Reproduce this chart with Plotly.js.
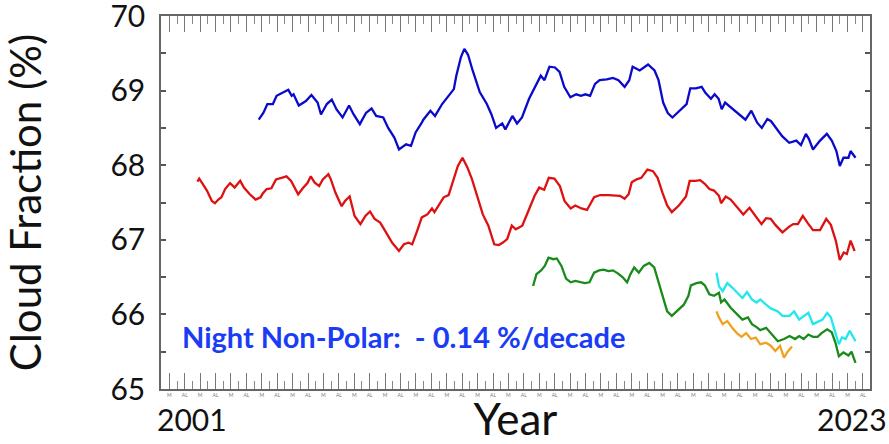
<!DOCTYPE html>
<html>
<head>
<meta charset="utf-8">
<script src="https://cdn.plot.ly/plotly-3.0.1.min.js"></script>
<style>html,body{margin:0;padding:0;background:#fff;}#chart{width:889px;height:444px;}</style>
</head>
<body>
<div id="chart"></div>
<script>
// ---- Data ----
const blueYears = [2003.17,2003.32,2003.45,2003.63,2003.75,2003.93,2004.13,2004.24,2004.30,2004.47,2004.70,2004.88,2005.08,2005.19,2005.38,2005.54,2005.69,2005.89,2006.10,2006.25,2006.45,2006.65,2006.83,2006.98,2007.21,2007.37,2007.57,2007.72,2007.95,2008.11,2008.26,2008.46,2008.51,2008.74,2008.89,2009.12,2009.32,2009.50,2009.58,2009.73,2009.84,2009.96,2010.11,2010.34,2010.57,2010.72,2010.87,2011.07,2011.17,2011.40,2011.55,2011.71,2011.94,2012.17,2012.32,2012.44,2012.60,2012.78,2012.93,2013.08,2013.28,2013.47,2013.62,2013.77,2013.92,2014.08,2014.23,2014.46,2014.66,2014.84,2015.04,2015.19,2015.30,2015.53,2015.80,2016.01,2016.14,2016.29,2016.44,2016.59,2016.82,2017.05,2017.17,2017.35,2017.54,2017.66,2017.84,2017.96,2018.09,2018.19,2018.30,2018.50,2018.73,2018.96,2019.15,2019.34,2019.49,2019.67,2019.79,2019.95,2020.15,2020.38,2020.61,2020.76,2020.92,2021.02,2021.15,2021.38,2021.60,2021.76,2021.91,2022.02,2022.14,2022.30,2022.37,2022.53];
const blueVals  = [68.61,68.70,68.82,68.82,68.93,68.97,69.01,68.93,68.95,68.80,68.86,68.94,68.84,68.68,68.82,68.88,68.75,68.64,68.80,68.68,68.55,68.70,68.76,68.66,68.64,68.50,68.37,68.21,68.28,68.26,68.44,68.57,68.61,68.73,68.66,68.82,68.93,69.02,69.20,69.45,69.56,69.48,69.27,68.98,68.82,68.68,68.50,68.56,68.48,68.66,68.56,68.64,68.89,69.09,69.20,69.14,69.32,69.31,69.25,69.05,68.91,68.95,68.93,68.95,68.93,69.09,69.14,69.15,69.17,69.14,69.05,69.14,69.32,69.27,69.35,69.27,69.14,68.84,68.70,68.64,68.73,68.82,69.03,69.03,69.05,68.97,68.89,68.95,68.89,68.75,68.84,68.77,68.68,68.61,68.73,68.57,68.50,68.62,68.59,68.50,68.39,68.30,68.33,68.27,68.42,68.35,68.21,68.33,68.42,68.33,68.19,67.99,68.10,68.10,68.19,68.10];

const redYears = [2001.18,2001.24,2001.32,2001.49,2001.65,2001.75,2001.86,2001.96,2002.08,2002.24,2002.39,2002.57,2002.69,2002.88,2003.07,2003.23,2003.30,2003.43,2003.58,2003.73,2003.91,2004.07,2004.22,2004.29,2004.45,2004.60,2004.75,2004.86,2004.98,2005.13,2005.25,2005.43,2005.51,2005.66,2005.86,2005.97,2006.12,2006.28,2006.47,2006.63,2006.78,2006.93,2007.11,2007.30,2007.50,2007.72,2007.88,2008.03,2008.15,2008.31,2008.46,2008.64,2008.79,2008.87,2009.02,2009.17,2009.33,2009.48,2009.63,2009.78,2009.94,2010.09,2010.24,2010.44,2010.62,2010.81,2010.96,2011.08,2011.23,2011.38,2011.51,2011.72,2011.92,2012.12,2012.27,2012.43,2012.58,2012.76,2012.94,2013.09,2013.29,2013.44,2013.64,2013.82,2014.05,2014.25,2014.51,2014.74,2014.89,2015.04,2015.17,2015.27,2015.43,2015.58,2015.78,2015.96,2016.11,2016.27,2016.42,2016.57,2016.80,2017.03,2017.15,2017.34,2017.49,2017.64,2017.79,2017.94,2018.10,2018.17,2018.32,2018.48,2018.70,2018.89,2019.09,2019.29,2019.48,2019.63,2019.78,2019.93,2020.16,2020.39,2020.51,2020.66,2020.82,2020.97,2021.15,2021.38,2021.58,2021.73,2021.89,2022.02,2022.15,2022.25,2022.37,2022.50];
const redVals  = [67.78,67.82,67.77,67.66,67.52,67.49,67.54,67.57,67.68,67.76,67.70,67.79,67.70,67.61,67.54,67.57,67.62,67.68,67.69,67.81,67.83,67.85,67.79,67.73,67.61,67.69,67.76,67.85,67.77,67.72,67.81,67.88,67.81,67.63,67.45,67.52,67.58,67.32,67.21,67.32,67.38,67.28,67.23,67.10,66.96,66.85,66.94,66.96,66.94,67.12,67.30,67.34,67.42,67.37,67.48,67.57,67.60,67.79,67.99,68.10,67.97,67.81,67.61,67.34,67.19,66.94,66.93,66.96,67.01,67.19,67.14,67.19,67.39,67.59,67.70,67.67,67.83,67.82,67.72,67.52,67.42,67.46,67.42,67.40,67.57,67.60,67.60,67.60,67.59,67.55,67.61,67.77,67.81,67.83,67.94,67.92,67.83,67.63,67.46,67.37,67.46,67.58,67.79,67.79,67.80,67.75,67.68,67.66,67.59,67.49,67.58,67.54,67.43,67.34,67.43,67.32,67.21,67.29,67.28,67.20,67.10,67.18,67.21,67.21,67.32,67.23,67.13,67.13,67.28,67.20,66.99,66.73,66.83,66.81,66.99,66.85];

const greenYears = [2012.07,2012.18,2012.33,2012.45,2012.57,2012.73,2012.84,2012.99,2013.14,2013.29,2013.44,2013.60,2013.75,2013.90,2014.05,2014.21,2014.36,2014.51,2014.66,2014.82,2014.97,2015.12,2015.23,2015.35,2015.50,2015.66,2015.84,2016.00,2016.15,2016.27,2016.42,2016.57,2016.73,2016.96,2017.11,2017.19,2017.37,2017.52,2017.64,2017.79,2017.94,2018.10,2018.17,2018.28,2018.48,2018.68,2018.86,2019.04,2019.17,2019.32,2019.44,2019.63,2019.78,2020.01,2020.21,2020.39,2020.57,2020.70,2020.85,2021.00,2021.15,2021.30,2021.43,2021.61,2021.76,2021.88,2021.99,2022.14,2022.30,2022.40,2022.53];
const greenVals  = [66.38,66.54,66.59,66.65,66.76,66.74,66.75,66.65,66.48,66.43,66.45,66.43,66.42,66.43,66.56,66.59,66.60,66.58,66.59,66.55,66.50,66.43,66.54,66.63,66.56,66.65,66.69,66.63,66.42,66.22,66.04,65.98,66.04,66.13,66.25,66.39,66.42,66.43,66.39,66.27,66.25,66.29,66.16,66.20,66.09,66.00,65.93,65.96,65.87,65.83,65.79,65.82,65.75,65.64,65.67,65.71,65.67,65.71,65.67,65.73,65.70,65.70,65.75,65.80,65.76,65.62,65.44,65.49,65.45,65.50,65.35];

const cyanYears = [2018.02,2018.10,2018.22,2018.37,2018.53,2018.71,2018.86,2019.01,2019.17,2019.32,2019.44,2019.63,2019.78,2020.01,2020.16,2020.39,2020.54,2020.70,2020.85,2021.00,2021.15,2021.30,2021.46,2021.61,2021.73,2021.88,2021.99,2022.09,2022.21,2022.34,2022.53];
const cyanVals  = [66.56,66.38,66.31,66.42,66.36,66.29,66.22,66.30,66.20,66.16,66.20,66.13,66.08,66.04,65.98,65.98,66.04,65.93,65.98,66.02,65.87,65.90,65.93,66.02,65.96,65.75,65.60,65.69,65.67,65.78,65.64];

const orangeYears = [2018.02,2018.10,2018.22,2018.37,2018.53,2018.68,2018.83,2018.98,2019.14,2019.29,2019.44,2019.63,2019.78,2019.93,2020.08,2020.21,2020.31,2020.47];
const orangeVals  = [66.04,65.96,65.87,65.91,65.82,65.75,65.70,65.75,65.67,65.69,65.60,65.62,65.58,65.51,65.58,65.42,65.49,65.57];

const yTickVals = [65, 66, 67, 68, 69, 70];
const yTickText = ['65', '66', '67', '68', '69', '70'];
const yearLabels = ['2001', '2023'];
const monthTickText = ['M', 'AL'];
const trendText = 'Night Non-Polar:  - 0.14 %/decade';

// ---- Build ----
const mk = (x, y, color) => ({x: x, y: y, type: 'scatter', mode: 'lines',
  line: {color: color, width: 2.3}, hoverinfo: 'skip', showlegend: false});

const traces = [
  mk(blueYears, blueVals, '#0a0acc'),
  mk(redYears, redVals, '#dd1111'),
  mk(greenYears, greenVals, '#1a8a1a'),
  mk(cyanYears, cyanVals, '#22e8ee'),
  mk(orangeYears, orangeVals, '#f0a21e')
];

// long (labelled, tiny month marks) x ticks every half year
const xTickVals = [], xTickText = [];
for (let k = 0; k < 46; k++) {
  xTickVals.push(2000.27 + 0.5 * k);
  xTickText.push(monthTickText[k % 2]);
}

const font = 'Lato, "Open Sans", sans-serif';

const layout = {
  width: 889, height: 444,
  margin: {l: 161, r: 19, t: 16, b: 55, pad: 0},
  paper_bgcolor: '#fff', plot_bgcolor: '#fff',
  font: {family: font, color: '#111'},
  xaxis: {
    range: [2000, 2023], showgrid: false, zeroline: false,
    showline: true, linecolor: '#666', linewidth: 1.5, mirror: 'allticks',
    ticks: 'inside', ticklen: 16, tickwidth: 1.2, tickcolor: '#777',
    tickvals: xTickVals, ticktext: xTickText,
    tickfont: {size: 5, color: '#777', family: font},
    minor: {dtick: 0.5, tick0: 2000.02, ticks: 'inside', ticklen: 8, tickcolor: '#888', tickwidth: 1.2},
    title: {text: 'Year', font: {size: 44, family: font, color: '#111'}, standoff: 16}
  },
  yaxis: {
    range: [65, 70], showgrid: false, zeroline: false,
    showline: true, linecolor: '#666', linewidth: 1.5, mirror: 'allticks',
    ticks: 'inside', ticklen: 5, tickwidth: 1.5, tickcolor: '#555',
    tickvals: yTickVals, ticktext: yTickText, ticklabelstandoff: 8, ticklabeloverflow: 'allow',
    tickfont: {size: 30, family: font, color: '#111'},
    minor: {dtick: 0.5, tick0: 65, ticks: 'inside', ticklen: 5, tickcolor: '#555', tickwidth: 1.5},
    title: {text: 'Cloud Fraction (%)', font: {size: 42, family: font, color: '#111'}, standoff: 62}
  },
  annotations: [
    {x: 2001, y: 0, xref: 'x', yref: 'paper', yanchor: 'top', yshift: -10, showarrow: false,
     text: yearLabels[0], font: {size: 30, family: font, color: '#111'}},
    {x: 2022.4, y: 0, xref: 'x', yref: 'paper', yanchor: 'top', yshift: -10, showarrow: false,
     text: yearLabels[1], font: {size: 30, family: font, color: '#111'}},
    {x: 2000.6, y: 65.7, xref: 'x', yref: 'y', xanchor: 'left', yanchor: 'middle', showarrow: false,
     text: '<b>' + trendText + '</b>', font: {size: 29, family: font, color: '#1a3cf5'}}
  ]
};

Plotly.newPlot('chart', traces, layout, {displayModeBar: false});
</script>
</body>
</html>
